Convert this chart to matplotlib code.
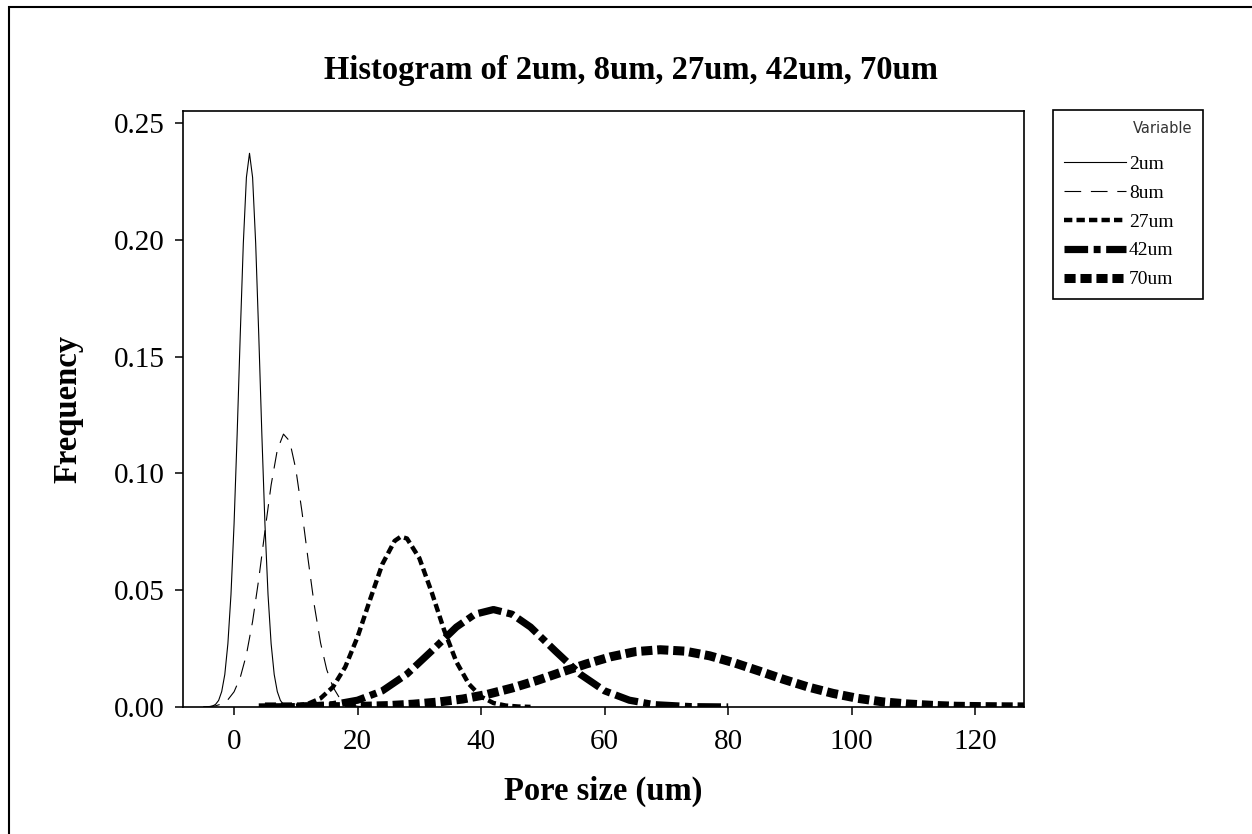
import matplotlib
import matplotlib.pyplot as plt
from matplotlib.patches import Rectangle
from matplotlib.font_manager import FontProperties

matplotlib.use('Agg')  # no display

# Curve values (pore size in um, frequency)
x_2um = [-4, -3.5, -3, -2.5, -2, -1.5, -1, -0.5, 0, 0.5, 1, 1.5, 2, 2.5,
         3, 3.5, 4, 4.5, 5, 5.5, 6, 6.5, 7, 7.5, 8, 8.5, 9]
y_2um = [0.0001, 0.0004, 0.0011, 0.0028, 0.0066, 0.0139, 0.0271, 0.0481, 0.0783,
         0.1167, 0.1591, 0.1985, 0.2267, 0.237, 0.2267, 0.1985, 0.1591, 0.1167,
         0.0783, 0.0481, 0.0271, 0.0139, 0.0066, 0.0028, 0.0011, 0.0004, 0.0001]

x_8um = [-5, -4, -3, -2, -1, 0, 1, 2, 3, 4, 5, 6, 7, 8, 9, 10, 11, 12, 13,
         14, 15, 16, 17, 18, 19, 20, 21]
y_8um = [0.0001, 0.0002, 0.0005, 0.0013, 0.0031, 0.0065, 0.0126, 0.0224, 0.0366,
         0.0548, 0.0753, 0.0950, 0.1100, 0.1168, 0.1138, 0.1018, 0.0835, 0.0629,
         0.0434, 0.0275, 0.0160, 0.0086, 0.0042, 0.0019, 0.0008, 0.0003, 0.0001]

x_27um = [6, 8, 10, 12, 14, 16, 18, 20, 22, 24, 26, 27, 28, 30, 32, 34, 36,
          38, 40, 42, 44, 46, 48]
y_27um = [0.00003, 0.0001, 0.0005, 0.0014, 0.0037, 0.0085, 0.0171, 0.0300,
          0.0458, 0.0611, 0.0711, 0.0729, 0.0721, 0.0637, 0.0491, 0.0330,
          0.0193, 0.0099, 0.0044, 0.0017, 0.0006, 0.0002, 0.00004]

x_42um = [4, 10, 16, 20, 24, 28, 32, 36, 39, 42, 45, 48, 52, 56, 60, 64,
          68, 74, 80]
y_42um = [0.00001, 0.00014, 0.0010, 0.0029, 0.0069, 0.0141, 0.0240, 0.0342,
          0.0397, 0.0417, 0.0397, 0.0342, 0.0240, 0.0141, 0.0069, 0.0029,
          0.0010, 0.00014, 0.00001]

x_70um = [5, 9, 13, 17, 21, 25, 29, 33, 37, 41, 45, 49, 53, 57, 61, 65, 69,
          73, 77, 81, 85, 89, 93, 97, 101, 105, 109, 113, 117, 121, 125, 129]
y_70um = [0.00001, 0.00003, 0.00006, 0.00014, 0.0003, 0.0006, 0.0012, 0.0021,
          0.0034, 0.0054, 0.0081, 0.0113, 0.0149, 0.0184, 0.0215, 0.0237,
          0.0245, 0.0239, 0.0219, 0.0189, 0.0154, 0.0118, 0.0085, 0.0058,
          0.0037, 0.0022, 0.0013, 0.0007, 0.0003, 0.00016, 0.00007, 0.00003]

labels = ['2um', '8um', '27um', '42um', '70um']
x_ticks = [0, 20, 40, 60, 80, 100, 120]
y_ticks = [0.00, 0.05, 0.10, 0.15, 0.20, 0.25]

plt.rcParams['font.family'] = ['Liberation Serif', 'DejaVu Serif']
plt.rcParams['lines.scale_dashes'] = False

fig = plt.figure(figsize=(12.52, 8.34), dpi=100)
ax = fig.add_axes([0.1462, 0.1523, 0.6717, 0.7146])

# line styles: width in pt, dash pattern in pt
ax.plot(x_2um, y_2um, color='black', lw=0.8, label=labels[0])
ax.plot(x_8um, y_8um, color='black', lw=0.8, dashes=(12, 7), label=labels[1])
ax.plot(x_27um, y_27um, color='black', lw=3.2, dashes=(6, 3), label=labels[2])
ax.plot(x_42um, y_42um, color='black', lw=5.2, dashes=(17, 4, 5, 4), label=labels[3])
ax.plot(x_70um, y_70um, color='black', lw=6.5, dashes=(8, 3.5), label=labels[4])

ax.set_xlim(-8.26, 127.9)
ax.set_ylim(0, 0.2551)
ax.set_xticks(x_ticks)
ax.set_yticks(y_ticks)
ax.set_yticklabels(['%.2f' % v for v in y_ticks])
ax.tick_params(direction='out', length=6, width=1.1, labelsize=21, colors='black')
ax.tick_params(axis='x', pad=10)
ax.tick_params(axis='y', pad=7)
for s in ax.spines.values():
    s.set_linewidth(1.2)

ax.set_xlabel('Pore size (um)', fontsize=23.5, fontweight='bold', labelpad=15)
ax.set_ylabel('Frequency', fontsize=23.5, fontweight='bold', labelpad=22)
fig.text(0.504, 1 - 71 / 834, 'Histogram of 2um, 8um, 27um, 42um, 70um',
         fontsize=23.5, fontweight='bold', ha='center', va='center')

# legend box at the right
leg = ax.legend(loc='upper left', bbox_to_anchor=(1053 / 1252, 1 - 294 / 834, 150 / 1252, 184 / 834),
                bbox_transform=fig.transFigure, mode='expand', borderaxespad=0,
                title='Variable', alignment='right', fontsize=14,
                title_fontproperties=FontProperties(family='DejaVu Sans', size=10.5),
                handlelength=3.2, handletextpad=0.15, labelspacing=0.58, borderpad=0.55,
                fancybox=False, edgecolor='black', framealpha=1)
leg._legend_box.sep = 14
leg.get_frame().set_linewidth(1.2)
leg.get_title().set_color('#333333')

# outer border of the graph window
fig.patches.append(Rectangle((8.5 / 1252, -0.1), 1.5, 1 - 7 / 834 + 0.1, transform=fig.transFigure,
                             fill=False, edgecolor='black', lw=1.5))

fig.savefig('out.png', dpi=100)
